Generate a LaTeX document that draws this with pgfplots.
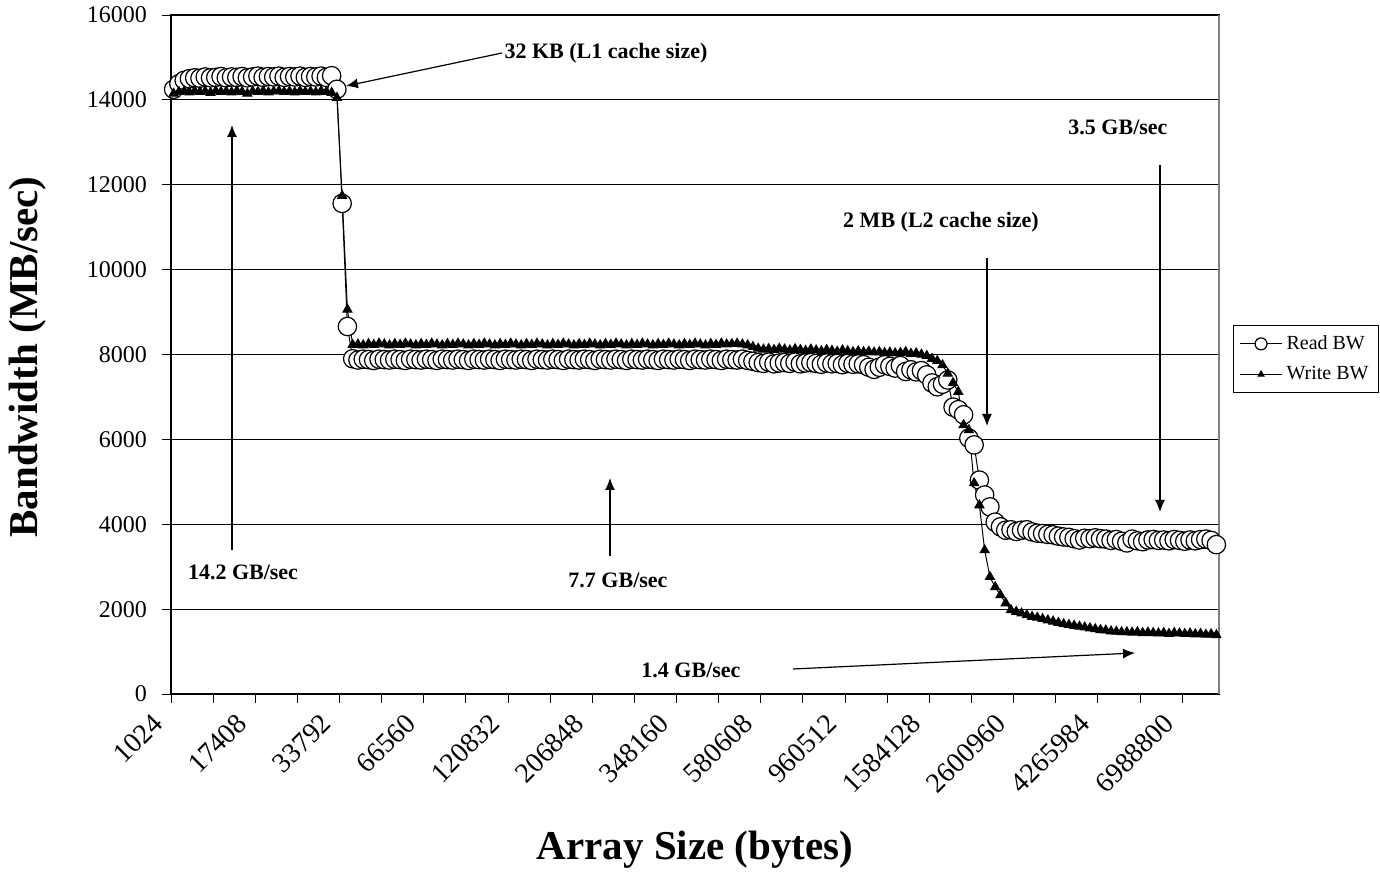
\documentclass[border=0pt]{standalone}
\usepackage{fontspec}
\setmainfont{Liberation Serif}
\usepackage{pgfplots}
\usepackage{pgfplotstable}
\pgfplotsset{compat=1.18}
\usetikzlibrary{arrows.meta}

% idx = category number (array sizes grow from 1 KB to ~8 MB)
\pgfplotstableread{
idx read write
0 14250 14150
1 14380 14190
2 14460 14200
3 14500 14180
4 14520 14210
5 14510 14190
6 14540 14200
7 14520 14170
8 14530 14210
9 14550 14190
10 14520 14200
11 14540 14180
12 14530 14210
13 14550 14190
14 14520 14150
15 14540 14200
16 14560 14190
17 14530 14210
18 14550 14180
19 14540 14200
20 14560 14210
21 14530 14190
22 14550 14200
23 14540 14180
24 14560 14210
25 14530 14190
26 14550 14200
27 14540 14180
28 14560 14210
29 14530 14190
30 14570 14170
31 14250 14050
32 11560 11740
33 8660 9060
34 7900 8230
35 7870 8240
36 7890 8220
37 7880 8250
38 7860 8230
39 7890 8260
40 7880 8240
41 7870 8220
42 7890 8250
43 7880 8230
44 7860 8260
45 7890 8240
46 7880 8220
47 7870 8250
48 7890 8230
49 7880 8260
50 7860 8240
51 7890 8220
52 7880 8250
53 7870 8230
54 7890 8260
55 7880 8240
56 7860 8220
57 7890 8250
58 7880 8230
59 7870 8260
60 7890 8240
61 7880 8220
62 7860 8250
63 7890 8230
64 7880 8260
65 7870 8240
66 7890 8220
67 7880 8250
68 7860 8230
69 7890 8260
70 7880 8240
71 7870 8220
72 7890 8250
73 7880 8230
74 7860 8260
75 7890 8240
76 7880 8220
77 7870 8250
78 7890 8230
79 7880 8260
80 7860 8240
81 7890 8220
82 7880 8250
83 7870 8230
84 7890 8260
85 7880 8240
86 7860 8220
87 7890 8250
88 7880 8230
89 7870 8260
90 7890 8240
91 7880 8220
92 7860 8250
93 7890 8230
94 7880 8260
95 7870 8240
96 7890 8220
97 7880 8250
98 7860 8230
99 7890 8260
100 7880 8240
101 7870 8220
102 7890 8250
103 7880 8230
104 7860 8260
105 7890 8240
106 7880 8250
107 7870 8260
108 7890 8240
109 7860 8220
110 7840 8180
111 7810 8140
112 7790 8120
113 7820 8130
114 7780 8110
115 7800 8140
116 7810 8120
117 7790 8100
118 7820 8130
119 7780 8110
120 7800 8090
121 7810 8120
122 7790 8100
123 7770 8080
124 7800 8110
125 7780 8090
126 7790 8070
127 7760 8100
128 7790 8080
129 7770 8060
130 7780 8080
131 7760 8060
132 7700 8070
133 7650 8050
134 7700 8060
135 7760 8040
136 7720 8050
137 7680 8030
138 7740 8040
139 7600 8060
140 7640 8020
141 7590 8030
142 7620 8000
143 7520 7970
144 7330 7900
145 7240 7850
146 7300 7750
147 7400 7550
148 6760 7330
149 6700 7120
150 6580 6340
151 6030 6220
152 5870 4970
153 5040 4450
154 4690 3390
155 4410 2760
156 4050 2520
157 3940 2330
158 3860 2140
159 3870 1980
160 3830 1940
161 3860 1900
162 3870 1860
163 3820 1820
164 3790 1800
165 3780 1770
166 3760 1740
167 3750 1710
168 3720 1680
169 3700 1650
170 3690 1630
171 3660 1610
172 3630 1590
173 3670 1570
174 3660 1550
175 3680 1530
176 3660 1510
177 3650 1500
178 3620 1480
179 3640 1470
180 3600 1460
181 3560 1460
182 3650 1450
183 3610 1460
184 3590 1440
185 3630 1450
186 3640 1440
187 3620 1430
188 3630 1440
189 3610 1420
190 3640 1440
191 3620 1430
192 3600 1420
193 3630 1430
194 3610 1410
195 3640 1420
196 3650 1400
197 3620 1410
198 3520 1390
}\bwdata

\begin{document}
\begin{tikzpicture}
\useasboundingbox (0,0) rectangle (690bp,-445bp);
\begin{axis}[
  at={(85.5bp,-347bp)}, anchor=south west,
  scale only axis, width=524bp, height=339.5bp,
  xmin=-0.5, xmax=198.5, ymin=0, ymax=16000,
  xtick={-0.5,7.5,...,191.5},
  xticklabels={1024,,17408,,33792,,66560,,120832,,206848,,348160,,580608,,960512,,1584128,,2600960,,4265984,,6988800},
  ytick={0,2000,...,16000},
  scaled y ticks=false,
  /pgf/number format/.cd, 1000 sep={}, assume math mode=true, /pgfplots/.cd,
  ymajorgrids, grid style={black, line width=0.5bp},
  tick pos=left, tick align=outside, major tick length=4.5bp,
  tick style={black, line width=0.5bp},
  axis line style={black, line width=0.6bp},
  yticklabel style={font=\fontsize{12bp}{14bp}\selectfont, xshift=-4bp},
  xticklabel style={font=\fontsize{14bp}{16bp}\selectfont, rotate=45, anchor=north east,
    inner sep=0pt, xshift=-10bp, yshift=4bp},
  xlabel={Array Size (bytes)},
  ylabel={Bandwidth (MB/sec)},
  every axis x label/.style={at={(axis description cs:0.5,-0.2297)}, anchor=center,
    font=\bfseries\fontsize{20.5bp}{24bp}\selectfont},
  every axis y label/.style={at={(axis description cs:-0.1365,0.4963)}, anchor=center, rotate=90,
    font=\bfseries\fontsize{20.5bp}{24bp}\selectfont},
  legend style={at={(1.0134,0.5435)}, anchor=north west, draw=black, line width=0.5bp,
    font=\fontsize{10bp}{12bp}\selectfont, row sep=3bp, inner xsep=3bp, inner ysep=3bp},
  legend cell align=left,
  legend image code/.code={\draw[mark repeat=2,mark phase=2,#1,every mark/.append style={scale=0.65}]
    plot coordinates {(0bp,0bp)(10.5bp,0bp)(21bp,0bp)};},
  clip=false,
]
\addplot[black, line width=0.5bp, mark=*, mark size=4.6bp,
  mark options={fill=white, draw=black, line width=0.6bp}] table[x=idx, y=read] {\bwdata};
\addlegendentry{Read BW}
\addplot[black, line width=0.5bp, mark=triangle*, mark size=2.6bp,
  mark options={fill=black, draw=black}] table[x=idx, y=write] {\bwdata};
\addlegendentry{Write BW}
\draw[gray, line width=0.6bp] (rel axis cs:1,0) -- (rel axis cs:1,1);
\end{axis}
% annotations, in pixel units of the 1380x890 picture
\begin{scope}[x=0.5bp, y=-0.5bp, line width=0.6bp,
  every node/.style={font=\bfseries\fontsize{11bp}{13bp}\selectfont, inner sep=0pt},
  >={Latex[length=6bp,width=5bp]}]
  \draw[->] (502,53) -- (346,86);
  \node[anchor=west] at (504,53) {32 KB (L1 cache size)};
  \draw[->] (232,550) -- (232,125);
  \node at (243,572) {14.2 GB/sec};
  \draw[->] (610,556) -- (610,478);
  \node at (618,580) {7.7 GB/sec};
  \draw[->] (987,258) -- (987,426);
  \node at (941,222) {2 MB (L2 cache size)};
  \draw[->] (1160,165) -- (1160,512);
  \node at (1118,127) {3.5 GB/sec};
  \draw[->] (793,669) -- (1135,653);
  \node at (691,670) {1.4 GB/sec};
\end{scope}
\end{tikzpicture}
\end{document}
